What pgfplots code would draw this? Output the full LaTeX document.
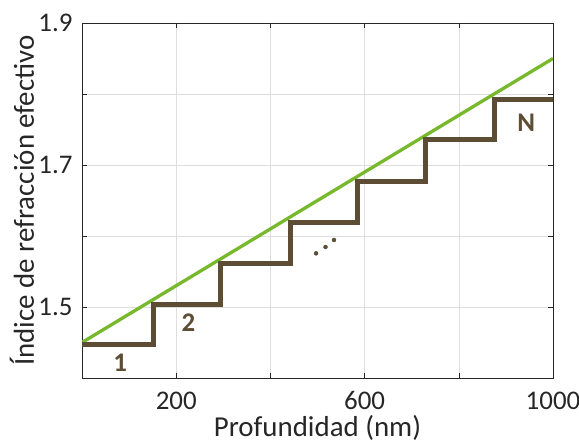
\documentclass[border=0pt]{standalone}
\usepackage{pgfplots}
\pgfplotsset{compat=1.18}
\usepackage{fontspec}
\setmainfont{Carlito}

\definecolor{stepbrown}{RGB}{92,77,52}
\definecolor{gradgreen}{RGB}{120,184,44}
\definecolor{axisgray}{RGB}{38,38,38}
\definecolor{gridgray}{RGB}{222,222,222}

\begin{document}
\begin{tikzpicture}
\begin{axis}[
  scale only axis,
  width=471bp, height=355bp,
  xmin=0, xmax=1000, ymin=1.4, ymax=1.9,
  xtick={0,200,400,600,800,1000},
  xticklabels={,200,,600,,1000},
  ytick={1.4,1.5,1.6,1.7,1.8,1.9},
  yticklabels={,1.5,,1.7,,1.9},
  /pgf/number format/assume math mode=true,
  tick align=inside,
  major tick length=5bp,
  axis line style={axisgray, line width=0.8pt},
  tick style={axisgray, line width=0.6pt},
  grid=major,
  major grid style={gridgray, line width=0.6pt},
  ticklabel style={font=\fontsize{27}{31}\selectfont, text=axisgray},
  xticklabel style={anchor=base, yshift=-31bp},
  yticklabel style={anchor=east, xshift=-6bp},
  label style={font=\fontsize{29}{33}\selectfont, text=axisgray},
  xlabel={Profundidad (nm)},
  ylabel={Índice de refracción efectivo},
  xlabel style={at={(axis description cs:0.5,-0.164)}, anchor=base},
  ylabel style={at={(axis description cs:-0.102,0.5)}, anchor=base},
  clip=true,
]
% effective index of the graded layer
\addplot[gradgreen, line width=3.3bp] coordinates {(0,1.45) (1000,1.85)};
% discrete steps approximating the graded profile
\addplot[const plot, stepbrown, line width=5bp, line join=miter] coordinates {
  (0,1.447) (151,1.503) (294,1.5615) (443,1.6196) (585,1.677)
  (730,1.7356) (875,1.7925) (1000,1.7925)};
% ellipsis between the intermediate steps
\addplot[only marks, mark=*, mark size=2bp, color=stepbrown] coordinates {
  (497,1.5756) (517,1.5845) (535,1.5944)};
\node[font=\fontsize{27}{31}\selectfont\bfseries, text=stepbrown] at (axis cs:81,1.4215) {1};
\node[font=\fontsize{27}{31}\selectfont\bfseries, text=stepbrown] at (axis cs:226,1.4775) {2};
\node[font=\fontsize{27}{31}\selectfont\bfseries, text=stepbrown] at (axis cs:943,1.76) {N};
\end{axis}
\pgfresetboundingbox
\path[use as bounding box] (current axis.south west) ++(-82bp,-64bp) rectangle ++(579bp,442bp);
\end{tikzpicture}
\end{document}
